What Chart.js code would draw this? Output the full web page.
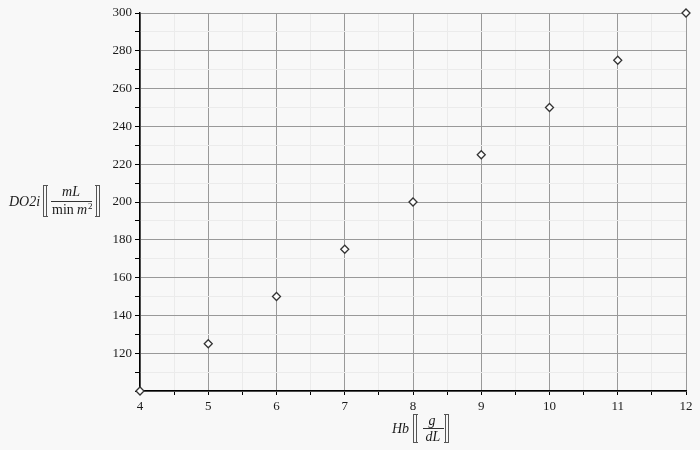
<!DOCTYPE html>
<html>
<head>
<meta charset="utf-8">
<script src="https://cdn.jsdelivr.net/npm/chart.js@4"></script>
<style>
  html, body { margin: 0; padding: 0; background: #f8f8f8; }
  #wrap { width: 700px; height: 450px; position: relative; }
</style>
</head>
<body>
<div id="wrap"><canvas id="c" width="700" height="450"></canvas></div>
<script>
const hbValues = [4, 5, 6, 7, 8, 9, 10, 11, 12];
const do2iValues = [100, 125, 150, 175, 200, 225, 250, 275, 300];
const xMajorTicks = [4, 5, 6, 7, 8, 9, 10, 11, 12];
const yMajorTicks = [120, 140, 160, 180, 200, 220, 240, 260, 280, 300];

const SERIF = '"Liberation Serif", "Times New Roman", serif';

function isMajorX(v) { return xMajorTicks.some(m => Math.abs(m - v) < 1e-6); }
function isMajorY(v) { return Math.abs(v / 20 - Math.round(v / 20)) < 1e-6; }

const titlesPlugin = {
  id: 'titles',
  afterDraw(chart) {
    const ctx = chart.ctx;
    const area = chart.chartArea;
    ctx.save();
    ctx.fillStyle = '#1a1a1a';
    ctx.strokeStyle = '#555';
    ctx.lineWidth = 1;

    function dblBracket(xLeft, y1, y2, left) {
      const w = 3;
      ctx.beginPath();
      ctx.moveTo(xLeft + 0.5, y1); ctx.lineTo(xLeft + 0.5, y2);
      ctx.moveTo(xLeft + w + 0.5, y1); ctx.lineTo(xLeft + w + 0.5, y2);
      if (left) {
        ctx.moveTo(xLeft, y1 + 0.5); ctx.lineTo(xLeft + w + 2, y1 + 0.5);
        ctx.moveTo(xLeft, y2 - 0.5); ctx.lineTo(xLeft + w + 2, y2 - 0.5);
      } else {
        ctx.moveTo(xLeft - 1, y1 + 0.5); ctx.lineTo(xLeft + w + 1, y1 + 0.5);
        ctx.moveTo(xLeft - 1, y2 - 0.5); ctx.lineTo(xLeft + w + 1, y2 - 0.5);
      }
      ctx.stroke();
    }

    // Y title
    const yc = chart.scales.y.getPixelForValue(200);
    ctx.textBaseline = 'alphabetic';
    ctx.font = 'italic 14px ' + SERIF;
    ctx.textAlign = 'left';
    ctx.fillText('DO2i', 9, yc + 4);
    dblBracket(43, yc - 17, yc + 15, true);
    ctx.textAlign = 'center';
    ctx.fillText('mL', 71, yc - 6);
    ctx.beginPath();
    ctx.moveTo(51, yc - 0.5); ctx.lineTo(92, yc - 0.5);
    ctx.strokeStyle = '#333';
    ctx.stroke();
    ctx.strokeStyle = '#555';
    ctx.font = '14px ' + SERIF;
    ctx.textAlign = 'left';
    ctx.fillText('min', 52, yc + 12);
    ctx.font = 'italic 14px ' + SERIF;
    ctx.fillText('m', 77, yc + 12);
    ctx.font = '9px ' + SERIF;
    ctx.fillText('2', 88, yc + 7);
    dblBracket(96, yc - 17, yc + 15, false);

    // X title
    const xc = chart.scales.x.getPixelForValue(8);
    const base = area.bottom;
    ctx.font = 'italic 14px ' + SERIF;
    ctx.textAlign = 'left';
    ctx.fillText('Hb', xc - 21, base + 42);
    dblBracket(xc + 0, base + 23, base + 52, true);
    ctx.textAlign = 'center';
    ctx.fillText('g', xc + 19, base + 34);
    ctx.beginPath();
    ctx.moveTo(xc + 10, base + 37.5); ctx.lineTo(xc + 31, base + 37.5);
    ctx.strokeStyle = '#333';
    ctx.stroke();
    ctx.strokeStyle = '#555';
    ctx.fillText('dL', xc + 20, base + 50);
    dblBracket(xc + 32, base + 23, base + 52, false);
    ctx.restore();
  }
};

new Chart(document.getElementById('c'), {
  type: 'scatter',
  data: {
    datasets: [{
      data: hbValues.map((x, i) => ({ x: x, y: do2iValues[i] })),
      pointStyle: 'rectRot',
      pointRadius: 4,
      pointHoverRadius: 4,
      borderColor: '#333',
      backgroundColor: '#ffffff',
      pointBorderWidth: 1.3,
      showLine: false,
      clip: false
    }]
  },
  options: {
    responsive: false,
    animation: false,
    events: [],
    layout: { padding: { top: 13, right: 14, left: 0, bottom: 0 } },
    plugins: { legend: { display: false }, tooltip: { enabled: false } },
    scales: {
      x: {
        type: 'linear',
        min: 4, max: 12,
        afterFit(s) { s.height = 59; },
        afterBuildTicks(s) {
          const t = [];
          for (let v = 4; v <= 12.0001; v += 0.5) t.push({ value: v });
          s.ticks = t;
        },
        border: { display: true, color: '#000', width: 1.5 },
        grid: {
          color: ctx => isMajorX(ctx.tick.value) ? '#999999' : '#ebebeb',
          tickColor: '#000',
          tickLength: 4,
          lineWidth: 1
        },
        ticks: {
          autoSkip: false,
          maxRotation: 0,
          padding: 4,
          color: '#1a1a1a',
          font: { family: SERIF, size: 13 },
          callback: v => isMajorX(v) ? String(Math.round(v)) : ''
        }
      },
      y: {
        type: 'linear',
        min: 100, max: 300,
        afterFit(s) { s.width = 140; },
        afterBuildTicks(s) {
          const t = [];
          for (let v = 100; v <= 300; v += 10) t.push({ value: v });
          s.ticks = t;
        },
        border: { display: true, color: '#000', width: 1.5 },
        grid: {
          color: ctx => isMajorY(ctx.tick.value) ? '#999999' : '#ebebeb',
          tickColor: '#000',
          tickLength: 5,
          lineWidth: 1
        },
        ticks: {
          autoSkip: false,
          padding: 3,
          color: '#1a1a1a',
          font: { family: SERIF, size: 13 },
          callback: v => (yMajorTicks.includes(v)) ? String(v) : ''
        }
      }
    }
  },
  plugins: [titlesPlugin]
});
</script>
</body>
</html>
